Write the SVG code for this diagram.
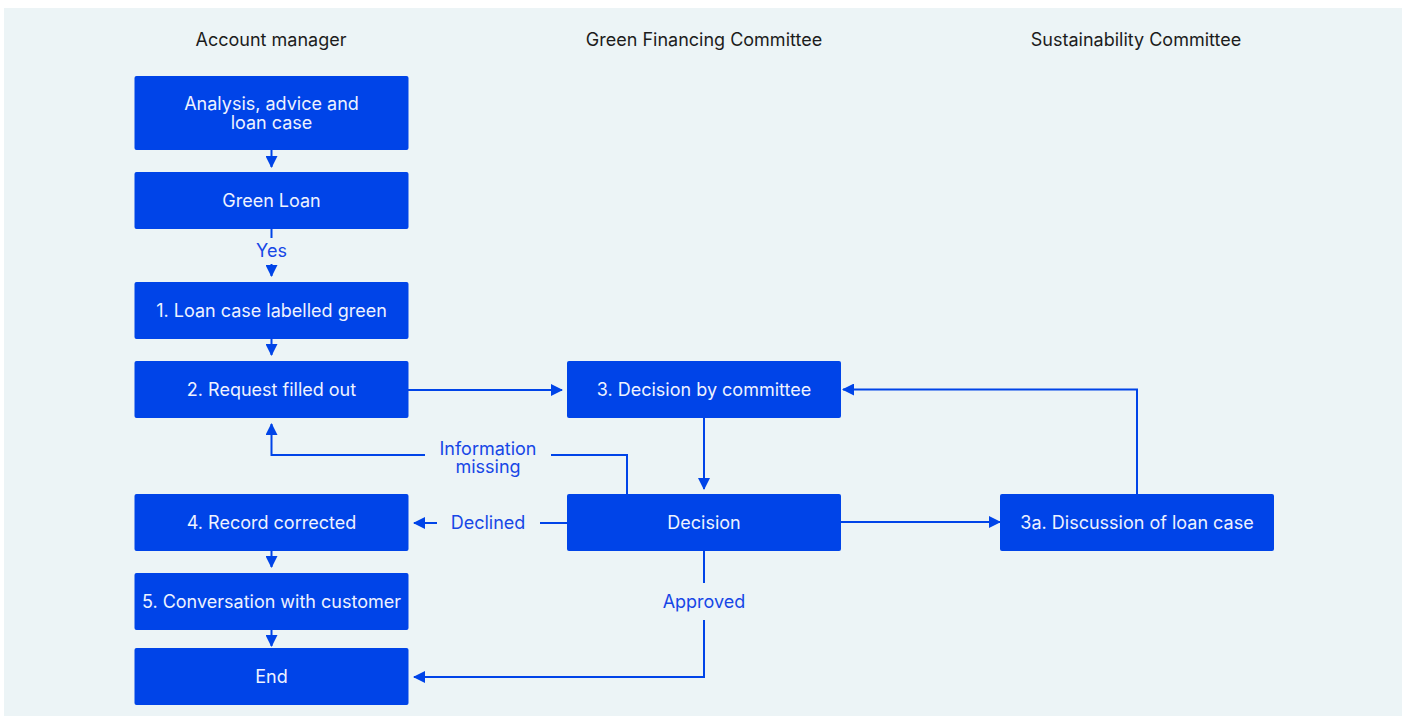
<svg xmlns="http://www.w3.org/2000/svg" width="1402" height="719" viewBox="0 0 1402 719">
<defs>
<style>
.bg{fill:#ECF4F6}
.box{fill:#0044E8}
.bt{fill:#EEF2FF;font-family:Inter,"Liberation Sans",sans-serif;font-size:18px;text-anchor:middle}
.hd{fill:#1C1C1C;font-family:Inter,"Liberation Sans",sans-serif;font-size:18px;text-anchor:middle}
.lb{fill:#1747E6;font-family:Inter,"Liberation Sans",sans-serif;font-size:18px;text-anchor:middle}
.ln{fill:none;stroke:#0044E8;stroke-width:2}
</style>
<marker id="ah" viewBox="0 0 12 12" refX="11" refY="6" markerWidth="12" markerHeight="12" markerUnits="userSpaceOnUse" orient="auto">
<path d="M0,0 L12,6 L0,12 Z" fill="#0044E8"/>
</marker>
</defs>
<rect class="bg" x="4" y="8" width="1398" height="708"/>
<g id="headers">
<text class="hd" x="271" y="46">Account manager</text>
<text class="hd" x="704" y="46">Green Financing Committee</text>
<text class="hd" x="1136" y="46">Sustainability Committee</text>
</g>
<g id="connectors">
<path class="ln" d="M271.5,150 V167" marker-end="url(#ah)"/>
<path class="ln" d="M271.5,229 V238"/>
<path class="ln" d="M271.5,264 V276" marker-end="url(#ah)"/>
<path class="ln" d="M271.5,339 V355" marker-end="url(#ah)"/>
<path class="ln" d="M408,390 H562" marker-end="url(#ah)"/>
<path class="ln" d="M704,418 V489" marker-end="url(#ah)"/>
<path class="ln" d="M627,494 V455 H551"/>
<path class="ln" d="M425,455 H271.5 V424" marker-end="url(#ah)"/>
<path class="ln" d="M567,523 H540"/>
<path class="ln" d="M437,523 H414" marker-end="url(#ah)"/>
<path class="ln" d="M841,522 H1000" marker-end="url(#ah)"/>
<path class="ln" d="M1137,494 V389.5 H843" marker-end="url(#ah)"/>
<path class="ln" d="M704,551 V583"/>
<path class="ln" d="M704,620 V677 H414" marker-end="url(#ah)"/>
<path class="ln" d="M271.5,551 V567" marker-end="url(#ah)"/>
<path class="ln" d="M271.5,629 V646" marker-end="url(#ah)"/>
</g>
<g id="labels">
<text class="lb" x="271.5" y="257">Yes</text>
<text class="lb" x="488" y="454.5">Information<tspan x="488" dy="18.5">missing</tspan></text>
<text class="lb" x="488" y="529">Declined</text>
<text class="lb" x="704" y="608">Approved</text>
</g>
<g id="n_analysis"><rect class="box" x="134.5" y="76" width="274" height="74" rx="2"/><text class="bt" x="271.5" y="110">Analysis, advice and<tspan x="271.5" dy="19">loan case</tspan></text></g>
<g id="n_greenloan"><rect class="box" x="134.5" y="172" width="274" height="57" rx="2"/><text class="bt" x="271.5" y="206.5">Green Loan</text></g>
<g id="n_1"><rect class="box" x="134.5" y="282" width="274" height="57" rx="2"/><text class="bt" x="271.5" y="316.5">1. Loan case labelled green</text></g>
<g id="n_2"><rect class="box" x="134.5" y="361" width="274" height="57" rx="2"/><text class="bt" x="271.5" y="395.5">2. Request filled out</text></g>
<g id="n_3"><rect class="box" x="567" y="361" width="274" height="57" rx="2"/><text class="bt" x="704" y="395.5">3. Decision by committee</text></g>
<g id="n_decision"><rect class="box" x="567" y="494" width="274" height="57" rx="2"/><text class="bt" x="704" y="528.5">Decision</text></g>
<g id="n_3a"><rect class="box" x="1000" y="494" width="274" height="57" rx="2"/><text class="bt" x="1137" y="528.5">3a. Discussion of loan case</text></g>
<g id="n_4"><rect class="box" x="134.5" y="494" width="274" height="57" rx="2"/><text class="bt" x="271.5" y="528.5">4. Record corrected</text></g>
<g id="n_5"><rect class="box" x="134.5" y="573" width="274" height="57" rx="2"/><text class="bt" x="271.5" y="607.5">5. Conversation with customer</text></g>
<g id="n_end"><rect class="box" x="134.5" y="648" width="274" height="57" rx="2"/><text class="bt" x="271.5" y="682.5">End</text></g>
</svg>
